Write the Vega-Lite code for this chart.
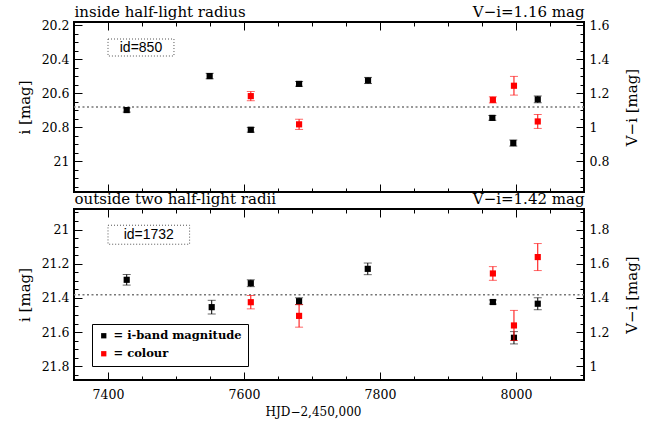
{
  "$schema": "https://vega.github.io/schema/vega-lite/v6.json",
  "padding": {"left": 16, "top": 3, "right": 4, "bottom": 5},
  "background": "white",
  "datasets": {
    "points": [
      {"panel": "inside", "series": "i", "hjd": 7427.5, "val": 20.698, "err": 0.012},
      {"panel": "inside", "series": "i", "hjd": 7549.5, "val": 20.498, "err": 0.016},
      {"panel": "inside", "series": "i", "hjd": 7610, "val": 20.814, "err": 0.014},
      {"panel": "inside", "series": "i", "hjd": 7681, "val": 20.544, "err": 0.014},
      {"panel": "inside", "series": "i", "hjd": 7782.4, "val": 20.524, "err": 0.018},
      {"panel": "inside", "series": "i", "hjd": 7965.2, "val": 20.744, "err": 0.014},
      {"panel": "inside", "series": "i", "hjd": 7996, "val": 20.892, "err": 0.018},
      {"panel": "inside", "series": "i", "hjd": 8032, "val": 20.635, "err": 0.02},
      {"panel": "inside", "series": "colour", "hjd": 7610, "val": 1.184, "err": 0.027},
      {"panel": "inside", "series": "colour", "hjd": 7681, "val": 1.018, "err": 0.03},
      {"panel": "inside", "series": "colour", "hjd": 7966, "val": 1.162, "err": 0.018},
      {"panel": "inside", "series": "colour", "hjd": 7997, "val": 1.245, "err": 0.055},
      {"panel": "inside", "series": "colour", "hjd": 8032, "val": 1.035, "err": 0.041},
      {"panel": "outside", "series": "i", "hjd": 7427.5, "val": 21.294, "err": 0.031},
      {"panel": "outside", "series": "i", "hjd": 7552.5, "val": 21.454, "err": 0.04},
      {"panel": "outside", "series": "i", "hjd": 7610, "val": 21.314, "err": 0.02},
      {"panel": "outside", "series": "i", "hjd": 7681, "val": 21.419, "err": 0.02},
      {"panel": "outside", "series": "i", "hjd": 7782, "val": 21.23, "err": 0.034},
      {"panel": "outside", "series": "i", "hjd": 7966, "val": 21.424, "err": 0.012},
      {"panel": "outside", "series": "i", "hjd": 7997, "val": 21.633, "err": 0.036},
      {"panel": "outside", "series": "i", "hjd": 8032, "val": 21.434, "err": 0.035},
      {"panel": "outside", "series": "colour", "hjd": 7610, "val": 1.375, "err": 0.039},
      {"panel": "outside", "series": "colour", "hjd": 7681, "val": 1.295, "err": 0.066},
      {"panel": "outside", "series": "colour", "hjd": 7966, "val": 1.543, "err": 0.04},
      {"panel": "outside", "series": "colour", "hjd": 7997, "val": 1.239, "err": 0.088},
      {"panel": "outside", "series": "colour", "hjd": 8032, "val": 1.639, "err": 0.079}
    ],
    "meta": [
      {"panel": "inside", "mean_i": 20.68, "id": "id=850", "bx": 7400, "bx2": 7497, "by": 20.28, "by2": 20.38, "tx": 7448.5, "ty": 20.33},
      {"panel": "outside", "mean_i": 21.381, "id": "id=1732", "bx": 7400, "bx2": 7520, "by": 20.975, "by2": 21.086, "tx": 7460, "ty": 21.03}
    ]
  },
  "vconcat": [
    {
      "width": 510,
      "height": 170,
      "resolve": {"scale": {"x": "independent", "y": "independent", "color": "independent"}, "axis": {"x": "independent", "y": "independent"}, "legend": {"color": "independent"}},
      "layer": [
        {
          "data": {"name": "meta"},
          "transform": [{"filter": "datum.panel == 'inside'"}],
          "mark": {"type": "rule", "color": "#777777", "strokeDash": [2, 2.5], "strokeWidth": 1.5},
          "encoding": {
            "y": {"field": "mean_i", "type": "quantitative", "scale": {"domain": [20.18, 21.18], "reverse": true, "nice": false, "zero": false}, "axis": null}
          }
        },
        {
          "data": {"name": "points"},
          "transform": [{"filter": "datum.panel == 'inside' && datum.series == 'i'"}],
          "mark": {"type": "errorbar", "color": "black", "ticks": {"size": 8, "opacity": 0.6}},
          "encoding": {
            "x": {"field": "hjd", "type": "quantitative", "scale": {"domain": [7350, 8100], "nice": false, "zero": false},
                  "axis": {"orient": "bottom", "values": [7400, 7600, 7800, 8000], "tickSize": -8, "labels": false, "domain": false, "grid": false, "title": null}},
            "y": {"field": "val", "type": "quantitative", "scale": {"domain": [20.18, 21.18], "reverse": true, "nice": false, "zero": false},
                  "axis": {"orient": "left", "values": [20.2, 20.4, 20.6, 20.8, 21.0], "format": "~g", "tickSize": -8, "labelPadding": 13, "titlePadding": 9, "domain": false, "grid": false, "title": "i [mag]"}},
            "yError": {"field": "err"}
          }
        },
        {
          "data": {"name": "points"},
          "transform": [{"filter": "datum.panel == 'inside' && datum.series == 'i'"}],
          "mark": {"type": "square", "size": 38, "opacity": 1},
          "encoding": {
            "x": {"field": "hjd", "type": "quantitative", "scale": {"domain": [7350, 8100], "nice": false, "zero": false},
                  "axis": {"orient": "bottom", "values": [7400, 7450, 7500, 7550, 7600, 7650, 7700, 7750, 7800, 7850, 7900, 7950, 8000, 8050], "tickSize": -4, "labels": false, "domain": false, "grid": false, "title": null}},
            "y": {"field": "val", "type": "quantitative", "scale": {"domain": [20.18, 21.18], "reverse": true, "nice": false, "zero": false},
                  "axis": {"orient": "left", "values": [20.2, 20.25, 20.3, 20.35, 20.4, 20.45, 20.5, 20.55, 20.6, 20.65, 20.7, 20.75, 20.8, 20.85, 20.9, 20.95, 21.0, 21.05, 21.1, 21.15], "tickSize": -4, "labels": false, "domain": false, "grid": false, "title": null}},
            "color": {"field": "series", "type": "nominal", "scale": {"domain": ["i", "colour"], "range": ["black", "red"]}, "legend": null}
          }
        },
        {
          "data": {"name": "points"},
          "transform": [{"filter": "datum.panel == 'inside' && datum.series == 'colour'"}],
          "mark": {"type": "errorbar", "color": "red", "ticks": {"size": 8, "opacity": 0.6}},
          "encoding": {
            "x": {"field": "hjd", "type": "quantitative", "scale": {"domain": [7350, 8100], "nice": false, "zero": false}, "axis": null},
            "y": {"field": "val", "type": "quantitative", "scale": {"domain": [0.62, 1.62], "nice": false, "zero": false},
                  "axis": {"orient": "right", "values": [0.8, 1.0, 1.2, 1.4, 1.6], "format": "~g", "tickSize": -8, "labelPadding": 13, "titlePadding": 16, "domain": false, "grid": false, "title": "V−i [mag]", "titleAngle": 270, "titleBaseline": "top"}},
            "yError": {"field": "err"}
          }
        },
        {
          "data": {"name": "points"},
          "transform": [{"filter": "datum.panel == 'inside' && datum.series == 'colour'"}],
          "mark": {"type": "square", "size": 38, "opacity": 1},
          "encoding": {
            "x": {"field": "hjd", "type": "quantitative", "scale": {"domain": [7350, 8100], "nice": false, "zero": false},
                  "axis": {"orient": "top", "values": [7400, 7600, 7800, 8000], "tickSize": -8, "labels": false, "domain": false, "grid": false, "title": "V−i=1.16 mag", "titleAnchor": "end", "titleFontSize": 15, "titlePadding": 2}},
            "y": {"field": "val", "type": "quantitative", "scale": {"domain": [0.62, 1.62], "nice": false, "zero": false},
                  "axis": {"orient": "right", "values": [0.65, 0.7, 0.75, 0.8, 0.85, 0.9, 0.95, 1.0, 1.05, 1.1, 1.15, 1.2, 1.25, 1.3, 1.35, 1.4, 1.45, 1.5, 1.55, 1.6], "tickSize": -4, "labels": false, "domain": false, "grid": false, "title": null}},
            "color": {"field": "series", "type": "nominal", "scale": {"domain": ["i", "colour"], "range": ["black", "red"]}, "legend": null}
          }
        },
        {
          "data": {"name": "meta"},
          "transform": [{"filter": "datum.panel == 'inside'"}],
          "mark": {"type": "rect", "fill": null, "fillOpacity": 0, "stroke": "#555555", "strokeDash": [1, 2], "strokeWidth": 1},
          "encoding": {
            "x": {"field": "bx", "type": "quantitative", "scale": {"domain": [7350, 8100], "nice": false, "zero": false},
                  "axis": {"orient": "top", "values": [7400, 7450, 7500, 7550, 7600, 7650, 7700, 7750, 7800, 7850, 7900, 7950, 8000, 8050], "tickSize": -4, "labels": false, "domain": false, "grid": false, "title": "inside half-light radius", "titleAnchor": "start", "titleFontSize": 15, "titlePadding": 2}},
            "x2": {"field": "bx2"},
            "y": {"field": "by", "type": "quantitative", "scale": {"domain": [20.18, 21.18], "reverse": true, "nice": false, "zero": false}, "axis": null},
            "y2": {"field": "by2"}
          }
        },
        {
          "data": {"name": "meta"},
          "transform": [{"filter": "datum.panel == 'inside'"}],
          "mark": {"type": "text", "font": "Liberation Sans", "fontSize": 14, "color": "black", "align": "center", "baseline": "middle"},
          "encoding": {
            "x": {"field": "tx", "type": "quantitative", "scale": {"domain": [7350, 8100], "nice": false, "zero": false}, "axis": null},
            "y": {"field": "ty", "type": "quantitative", "scale": {"domain": [20.18, 21.18], "reverse": true, "nice": false, "zero": false}, "axis": null},
            "text": {"field": "id"}
          }
        }
      ]
    },
    {
      "width": 510,
      "height": 171,
      "resolve": {"scale": {"x": "independent", "y": "independent", "color": "independent"}, "axis": {"x": "independent", "y": "independent"}, "legend": {"color": "independent"}},
      "layer": [
        {
          "data": {"name": "meta"},
          "transform": [{"filter": "datum.panel == 'outside'"}],
          "mark": {"type": "rule", "color": "#777777", "strokeDash": [2, 2.5], "strokeWidth": 1.5},
          "encoding": {
            "y": {"field": "mean_i", "type": "quantitative", "scale": {"domain": [20.88, 21.88], "reverse": true, "nice": false, "zero": false}, "axis": null}
          }
        },
        {
          "data": {"name": "points"},
          "transform": [{"filter": "datum.panel == 'outside' && datum.series == 'i'"}],
          "mark": {"type": "errorbar", "color": "black", "ticks": {"size": 8, "opacity": 0.6}},
          "encoding": {
            "x": {"field": "hjd", "type": "quantitative", "scale": {"domain": [7350, 8100], "nice": false, "zero": false},
                  "axis": {"orient": "bottom", "values": [7400, 7600, 7800, 8000], "tickSize": -8, "labelPadding": 16, "labels": true, "domain": false, "grid": false, "title": "HJD−2,450,000", "titleFontSize": 12, "titlePadding": 6, "titleX": 239, "titleAlign": "center", "format": "d"}},
            "y": {"field": "val", "type": "quantitative", "scale": {"domain": [20.88, 21.88], "reverse": true, "nice": false, "zero": false},
                  "axis": {"orient": "left", "values": [21.0, 21.2, 21.4, 21.6, 21.8], "format": "~g", "tickSize": -8, "labelPadding": 13, "titlePadding": 9, "domain": false, "grid": false, "title": "i [mag]"}},
            "yError": {"field": "err"}
          }
        },
        {
          "data": {"name": "points"},
          "transform": [{"filter": "datum.panel == 'outside' && datum.series == 'i'"}],
          "mark": {"type": "square", "size": 38, "opacity": 1},
          "encoding": {
            "x": {"field": "hjd", "type": "quantitative", "scale": {"domain": [7350, 8100], "nice": false, "zero": false},
                  "axis": {"orient": "bottom", "values": [7400, 7450, 7500, 7550, 7600, 7650, 7700, 7750, 7800, 7850, 7900, 7950, 8000, 8050], "tickSize": -4, "labels": false, "domain": false, "grid": false, "title": null}},
            "y": {"field": "val", "type": "quantitative", "scale": {"domain": [20.88, 21.88], "reverse": true, "nice": false, "zero": false},
                  "axis": {"orient": "left", "values": [20.9, 20.95, 21.0, 21.05, 21.1, 21.15, 21.2, 21.25, 21.3, 21.35, 21.4, 21.45, 21.5, 21.55, 21.6, 21.65, 21.7, 21.75, 21.8, 21.85], "tickSize": -4, "labels": false, "domain": false, "grid": false, "title": null}},
            "color": {"field": "series", "type": "nominal", "scale": {"domain": ["i", "colour"], "range": ["black", "red"]},
                      "legend": {"orient": "none", "legendX": 18, "legendY": 115, "title": null, "symbolType": "square", "symbolSize": 28, "symbolStrokeWidth": 0, "strokeColor": "black", "fillColor": "white", "padding": 6, "labelFont": "DejaVu Serif", "labelFontWeight": "bold", "labelFontSize": 11.5, "labelColor": "black", "rowPadding": 5, "labelOffset": 4, "labelExpr": "datum.value == 'i' ? '= i-band magnitude' : '= colour'"}}
          }
        },
        {
          "data": {"name": "points"},
          "transform": [{"filter": "datum.panel == 'outside' && datum.series == 'colour'"}],
          "mark": {"type": "errorbar", "color": "red", "ticks": {"size": 8, "opacity": 0.6}},
          "encoding": {
            "x": {"field": "hjd", "type": "quantitative", "scale": {"domain": [7350, 8100], "nice": false, "zero": false}, "axis": null},
            "y": {"field": "val", "type": "quantitative", "scale": {"domain": [0.92, 1.92], "nice": false, "zero": false},
                  "axis": {"orient": "right", "values": [1.0, 1.2, 1.4, 1.6, 1.8], "format": "~g", "tickSize": -8, "labelPadding": 13, "titlePadding": 16, "domain": false, "grid": false, "title": "V−i [mag]", "titleAngle": 270, "titleBaseline": "top"}},
            "yError": {"field": "err"}
          }
        },
        {
          "data": {"name": "points"},
          "transform": [{"filter": "datum.panel == 'outside' && datum.series == 'colour'"}],
          "mark": {"type": "square", "size": 38, "opacity": 1},
          "encoding": {
            "x": {"field": "hjd", "type": "quantitative", "scale": {"domain": [7350, 8100], "nice": false, "zero": false},
                  "axis": {"orient": "top", "values": [7400, 7600, 7800, 8000], "tickSize": -8, "labels": false, "domain": false, "grid": false, "title": "V−i=1.42 mag", "titleAnchor": "end", "titleFontSize": 15, "titlePadding": 2}},
            "y": {"field": "val", "type": "quantitative", "scale": {"domain": [0.92, 1.92], "nice": false, "zero": false},
                  "axis": {"orient": "right", "values": [0.95, 1.0, 1.05, 1.1, 1.15, 1.2, 1.25, 1.3, 1.35, 1.4, 1.45, 1.5, 1.55, 1.6, 1.65, 1.7, 1.75, 1.8, 1.85, 1.9], "tickSize": -4, "labels": false, "domain": false, "grid": false, "title": null}},
            "color": {"field": "series", "type": "nominal", "scale": {"domain": ["i", "colour"], "range": ["black", "red"]}, "legend": null}
          }
        },
        {
          "data": {"name": "meta"},
          "transform": [{"filter": "datum.panel == 'outside'"}],
          "mark": {"type": "rect", "fill": null, "fillOpacity": 0, "stroke": "#555555", "strokeDash": [1, 2], "strokeWidth": 1},
          "encoding": {
            "x": {"field": "bx", "type": "quantitative", "scale": {"domain": [7350, 8100], "nice": false, "zero": false},
                  "axis": {"orient": "top", "values": [7400, 7450, 7500, 7550, 7600, 7650, 7700, 7750, 7800, 7850, 7900, 7950, 8000, 8050], "tickSize": -4, "labels": false, "domain": false, "grid": false, "title": "outside two half-light radii", "titleAnchor": "start", "titleFontSize": 15, "titlePadding": 2}},
            "x2": {"field": "bx2"},
            "y": {"field": "by", "type": "quantitative", "scale": {"domain": [20.88, 21.88], "reverse": true, "nice": false, "zero": false}, "axis": null},
            "y2": {"field": "by2"}
          }
        },
        {
          "data": {"name": "meta"},
          "transform": [{"filter": "datum.panel == 'outside'"}],
          "mark": {"type": "text", "font": "Liberation Sans", "fontSize": 14, "color": "black", "align": "center", "baseline": "middle"},
          "encoding": {
            "x": {"field": "tx", "type": "quantitative", "scale": {"domain": [7350, 8100], "nice": false, "zero": false}, "axis": null},
            "y": {"field": "ty", "type": "quantitative", "scale": {"domain": [20.88, 21.88], "reverse": true, "nice": false, "zero": false}, "axis": null},
            "text": {"field": "id"}
          }
        }
      ]
    }
  ],
  "spacing": 17,
  "bounds": "flush",
  "config": {
    "view": {"stroke": "black", "strokeWidth": 2},
    "font": "DejaVu Serif",
    "axis": {
      "labelFont": "DejaVu Serif",
      "labelFontSize": 12.5,
      "labelColor": "black",
      "titleFont": "DejaVu Serif",
      "titleFontSize": 15,
      "titleFontWeight": "normal",
      "titleColor": "black",
      "tickColor": "black",
      "tickWidth": 1
    }
  }
}
